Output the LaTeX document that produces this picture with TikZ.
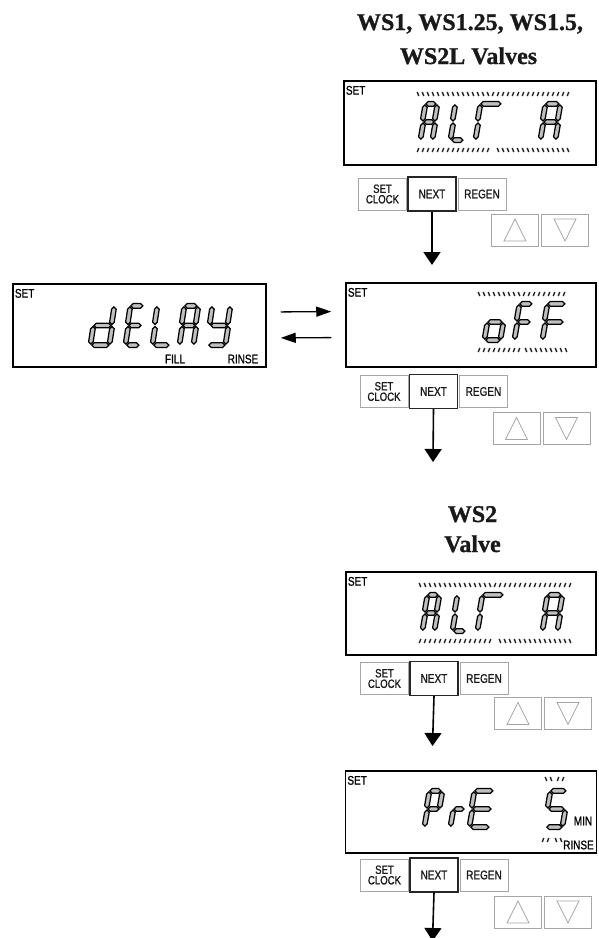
\documentclass[tikz,border=0pt]{standalone}
\usepackage{fontspec}
\setmainfont{Liberation Serif}
\newfontfamily\lcdfont[FakeStretch=0.8, FakeBold=1]{Liberation Sans}
\newfontfamily\titlefont[FakeBold=1]{Liberation Serif}
\usetikzlibrary{arrows.meta,calc}

\tikzset{
  lcdpoly/.style={fill=gray!50, draw=black, line width=1.25pt, line join=miter},
  lcdtick/.style={line width=1.4pt, black!85},
  disp/.style={draw=black, line width=1.5pt, inner sep=0pt},
  btn/.style={draw=gray!70, line width=0.8pt, inner sep=0pt, minimum width=48pt, minimum height=32pt,
     font=\lcdfont\fontsize{12.5}{12}\selectfont, text=black!90},
  nextbtn/.style={btn, draw=black!85, line width=1.1pt, minimum height=34pt},
  clockbtn/.style={btn, align=center, font=\lcdfont\fontsize{12}{10.5}\selectfont},
  arrbtn/.style={draw=gray!70, line width=0.8pt, inner sep=0pt, minimum width=47pt, minimum height=32pt},
  tri/.style={draw=gray!70, line width=0.7pt, line join=miter},
  setlbl/.style={font=\lcdfont\fontsize{12.5}{12}\selectfont, inner sep=0pt, anchor=north west},
  lcdlbl/.style={font=\lcdfont\fontsize{12.5}{12}\selectfont, inner sep=0pt},
  titletxt/.style={font=\titlefont\bfseries\fontsize{24}{28}\selectfont, text=black!90, inner sep=0pt, anchor=base},
  darr/.style={line width=1.6pt, -{Triangle[length=13pt,width=17pt]}},
  harr/.style={line width=1.3pt, -{Triangle[length=15pt,width=10pt]}, shorten <=14pt, shorten >=14pt},
}

\def\sgt{2.3pt}
\def\sgg{1pt}
% horizontal segment between local corner points #1 (left) and #2 (right)
\newcommand\lcdh[2]{\filldraw[lcdpoly] ($(#1)+(\sgg,0pt)$) -- ($(#1)+(\sgg+\sgt,\sgt)$) -- ($(#2)+(-\sgg-\sgt,\sgt)$) -- ($(#2)+(-\sgg,0pt)$) -- ($(#2)+(-\sgg-\sgt,-\sgt)$) -- ($(#1)+(\sgg+\sgt,-\sgt)$) -- cycle;}
% vertical segment between local corner points #1 (bottom) and #2 (top)
\newcommand\lcdv[2]{\filldraw[lcdpoly] ($(#1)+(0pt,\sgg)$) -- ($(#1)+(\sgt,\sgg+\sgt)$) -- ($(#2)+(\sgt,-\sgg-\sgt)$) -- ($(#2)+(0pt,-\sgg)$) -- ($(#2)+(-\sgt,-\sgg-\sgt)$) -- ($(#1)+(-\sgt,\sgg+\sgt)$) -- cycle;}
\newcommand\lcdsega{\lcdh{0,2}{1,2}}
\newcommand\lcdsegd{\lcdh{0,0}{1,0}}
\newcommand\lcdsegg{\lcdh{0,1}{1,1}}
\newcommand\lcdsegb{\lcdv{1,1}{1,2}}
\newcommand\lcdsegc{\lcdv{1,0}{1,1}}
\newcommand\lcdsege{\lcdv{0,0}{0,1}}
\newcommand\lcdsegf{\lcdv{0,1}{0,2}}
\def\lcdsl{2pt}
\def\lcdhh{18.5pt}
% #1 outer left x, #2 outer bottom y, #3 width, #4 segments
\newcommand\lcdchar[4]{%
  \begin{scope}[shift={(#1+2.9,#2-2.9)},x={(#3pt,0pt)},y={(\lcdsl,\lcdhh)}]
    \foreach \sg in {#4}{\csname lcdseg\sg\endcsname}
  \end{scope}}
% #1 first x, #2 y, #3 count-1, #4 direction (1 = \ , -1 = /)
\newcommand\lcdticks[4]{%
  \foreach \i in {0,...,#3}{\draw[lcdtick] ({#1+5*\i-#4*0.8},#2-2) -- ({#1+5*\i+#4*0.8},#2+2);}}
% buttons row: #1 prefix, #2 set clock x, #3 y, #4 up x, #5 up y
\newcommand\btnrow[5]{%
  \node[clockbtn] (#1sc) at (#2,#3) {SET\\CLOCK};
  \node[nextbtn] (#1nx) at (#2+49.5,#3) {NEXT};
  \node[btn] (#1rg) at (#2+99.5,#3) {REGEN};
  \node[arrbtn] (#1up) at (#4,#5) {};
  \node[arrbtn] (#1dn) at (#4+50,#5) {};
  \draw[tri] ($(#1up)+(-11,11)$) -- ($(#1up)+(11,11)$) -- ($(#1up)+(0,-11)$) -- cycle;
  \draw[tri] ($(#1dn)+(-11,-11)$) -- ($(#1dn)+(11,-11)$) -- ($(#1dn)+(0,11)$) -- cycle;
}

\begin{document}
\begin{tikzpicture}[x=1pt,y=-1pt]
\fill[white] (0,0) rectangle (598,938);
\useasboundingbox (0,0) rectangle (598,938);

% titles
\node[titletxt] (t1) at (470,30) {WS1, WS1.25, WS1.5,};
\node[titletxt] (t2) at (468.5,64) {WS2L Valves};
\node[titletxt] (t3) at (472.5,522) {WS2};
\node[titletxt] (t4) at (472.5,552) {Valve};

% display 1: ALT A
\node[disp, minimum width=252pt, minimum height=84pt] (d1) at (470,123) {};
\node[setlbl] (d1set) at ([xshift=2.5pt,yshift=-5.5pt]d1.north west) {SET};
\def\lcdhh{18.1pt}
\lcdchar{418}{143}{12}{a,b,c,e,f,g}
\lcdchar{448}{143}{13}{d,e,f}
\lcdchar{473}{143}{22}{a,e,f}
\lcdchar{538}{143}{15}{a,b,c,e,f,g}
\lcdticks{418}{94}{14}{1}
\lcdticks{493}{94}{15}{-1}
\lcdticks{418}{150}{14}{-1}
\lcdticks{498}{150}{14}{1}
\btnrow{a}{382.5}{194}{515}{230}
\coordinate (e1) at (432,265);
\draw[darr] (anx.south) -- (e1);

% display 2: oFF
\node[disp, minimum width=250pt, minimum height=84pt] (d2) at (471,325) {};
\node[setlbl] (d2set) at ([xshift=2.5pt,yshift=-5.5pt]d2.north west) {SET};
\lcdchar{482}{343}{16}{c,d,e,g}
\lcdchar{512}{343}{14}{a,e,f,g}
\lcdchar{540}{343}{19}{a,e,f,g}
\lcdticks{479}{294}{8}{1}
\lcdticks{524}{294}{8}{-1}
\lcdticks{479}{350}{8}{-1}
\lcdticks{526}{350}{8}{1}
\btnrow{b}{384}{391.5}{516.5}{428.5}
\coordinate (e2) at (433,462);
\draw[darr] (bnx.south) -- (e2);

% display delay
\node[disp, minimum width=253pt, minimum height=83pt] (dl) at (139.5,325.5) {};
\node[setlbl] (dlset) at ([xshift=2.5pt,yshift=-5.5pt]dl.north west) {SET};
\def\lcdhh{19.6pt}
\lcdchar{88}{348}{19}{b,c,d,e,g}
\lcdchar{123}{348}{14}{a,d,e,f,g}
\lcdchar{150}{348}{17}{d,e,f}
\lcdchar{177}{348}{14}{a,b,c,e,f,g}
\lcdchar{205}{348}{18}{b,c,d,f,g}
\node[lcdlbl] (fill) at (175,359) {FILL};
\node[lcdlbl] (rinse1) at (243,359) {RINSE};
\draw[harr] ([yshift=13.5pt]dl.east) -- ([yshift=13.5pt]d2.west);
\draw[harr] ([yshift=-12.5pt]d2.west) -- ([yshift=-12.5pt]dl.east);

% display 3: ALT A (WS2)
\node[disp, minimum width=250pt, minimum height=83pt] (d3) at (471,613.5) {};
\node[setlbl] (d3set) at ([xshift=2.5pt,yshift=-5.5pt]d3.north west) {SET};
\def\lcdhh{18.1pt}
\lcdchar{420}{634}{12}{a,b,c,e,f,g}
\lcdchar{450}{634}{13}{d,e,f}
\lcdchar{475}{634}{22}{a,e,f}
\lcdchar{540}{634}{15}{a,b,c,e,f,g}
\lcdticks{420}{585}{14}{1}
\lcdticks{495}{585}{15}{-1}
\lcdticks{420}{641}{14}{-1}
\lcdticks{500}{641}{14}{1}
\btnrow{c}{384.5}{678.5}{518}{713.5}
\coordinate (e3) at (432.5,746);
\draw[darr] (cnx.south) -- (e3);

% display 4: PrE 5
\node[disp, minimum width=251pt, minimum height=82pt] (d4) at (471,812) {};
\node[setlbl] (d4set) at ([xshift=2.5pt,yshift=-5.5pt]d4.north west) {SET};
\lcdchar{422}{830}{13}{a,b,e,f,g}
\lcdchar{448}{830}{12}{e,g}
\lcdchar{467}{830}{20}{a,d,e,f,g}
\lcdchar{543}{830}{17}{a,c,d,f,g}
\lcdticks{546}{779}{1}{1}
\lcdticks{558}{779}{1}{-1}
\lcdticks{543}{840}{1}{-1}
\lcdticks{556}{840}{1}{1}
\node[lcdlbl] (min) at (583,821) {MIN};
\node[lcdlbl] (rinse2) at (578.5,845) {RINSE};
\btnrow{d}{384.5}{875}{518}{912}
\coordinate (e4) at (432.5,941);
\draw[darr] (dnx.south) -- (e4);
\end{tikzpicture}
\end{document}
